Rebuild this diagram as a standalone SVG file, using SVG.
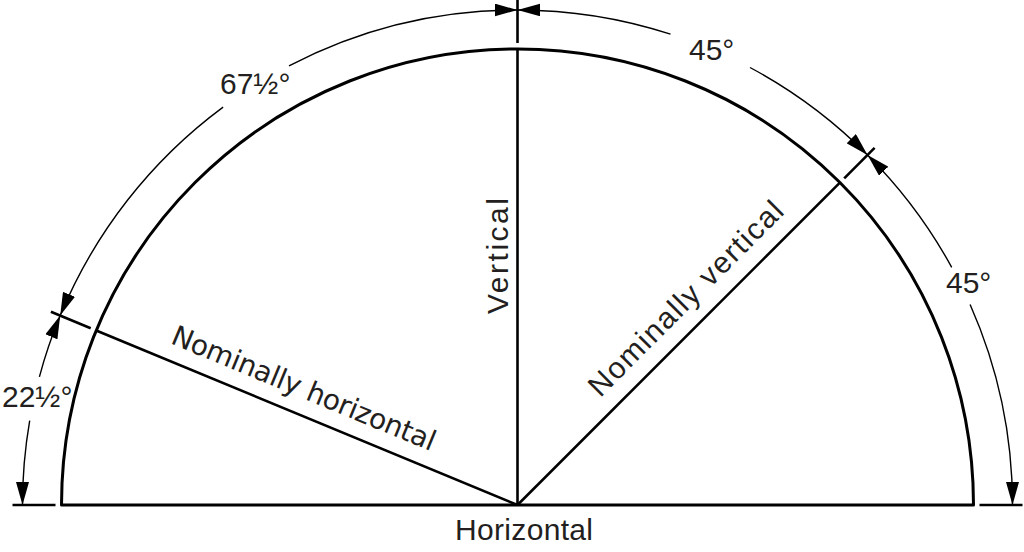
<svg xmlns="http://www.w3.org/2000/svg" width="1024" height="552" viewBox="0 0 1024 552">
<style>
.main{fill:none;stroke:#000;stroke-width:3;stroke-linejoin:round}
.ln{stroke:#000;stroke-width:2.6;fill:none}
.tick{stroke:#000;stroke-width:2.6;fill:none}
.dim{stroke:#000;stroke-width:1.4;fill:none}
.s{marker-start:url(#arrS)}
.e{marker-end:url(#arrE)}
text{font-family:"Liberation Sans",Arial,sans-serif;font-size:30px;fill:#231f20}
.dv{font-family:"DejaVu Sans","Liberation Sans",sans-serif;font-size:28px}
</style>
<defs>
<marker id="arrE" markerUnits="userSpaceOnUse" markerWidth="24" markerHeight="13" refX="23" refY="6.5" orient="auto"><path d="M0,0 L23,6.5 L0,13 Z" fill="#000"/></marker>
<marker id="arrS" markerUnits="userSpaceOnUse" markerWidth="24" markerHeight="13" refX="23" refY="6.5" orient="auto-start-reverse"><path d="M0,0 L23,6.5 L0,13 Z" fill="#000"/></marker>
</defs>
<rect width="1024" height="552" fill="#fff"/>
<g id="semicircle">
<path class="main" d="M61.5,505 A456,456 0 0 1 973.5,505 Z"/>
</g>
<g id="connectors">
<line class="ln" x1="517.5" y1="49" x2="517.5" y2="505"/>
<line class="ln" x1="517.5" y1="505" x2="96.2" y2="330.5"/>
<line class="ln" x1="517.5" y1="505" x2="839.9" y2="182.6"/>
<line class="tick" x1="12.5" y1="505" x2="55.5" y2="505"/>
<line class="tick" x1="979.5" y1="505" x2="1022.5" y2="505"/>
<line class="tick" x1="517.5" y1="0" x2="517.5" y2="43"/>
<line class="tick" x1="844.2" y1="178.3" x2="874.6" y2="147.9"/>
<line class="tick" x1="90.7" y1="328.2" x2="50.9" y2="311.7"/>
<path class="dim s" d="M22.5,505 A495,495 0 0 1 29.7,420.7"/>
<path class="dim e" d="M39.4,376.9 A495,495 0 0 1 60.2,315.6"/>
<path class="dim s" d="M60.2,315.6 A495,495 0 0 1 223.1,107.1"/>
<path class="dim e" d="M289,65.9 A495,495 0 0 1 517.5,10"/>
<path class="dim s" d="M517.5,10 A495,495 0 0 1 670.5,34.2"/>
<path class="dim e" d="M750,67.5 A495,495 0 0 1 867.5,155"/>
<path class="dim s" d="M867.5,155 A495,495 0 0 1 951.7,267.3"/>
<path class="dim e" d="M970.1,304.5 A495,495 0 0 1 1012.5,505"/>
</g>
<g id="label-vertical"><text transform="translate(508,256) rotate(-90)" text-anchor="middle" textLength="116">Vertical</text></g>
<g id="label-horizontal"><text x="524" y="540" text-anchor="middle" textLength="138">Horizontal</text></g>
<g id="label-nom-vertical"><text transform="translate(600.2,398.2) rotate(-45)" textLength="262">Nominally vertical</text></g>
<g id="label-nom-horizontal"><text class="dv" transform="translate(169.5,343) rotate(22.5)" textLength="283">Nominally horizontal</text></g>
<g id="angle-labels">
<text x="220" y="94">67½°</text>
<text x="689" y="60">45°</text>
<text x="946" y="293">45°</text>
<text x="2" y="407">22½°</text>
</g>
</svg>
